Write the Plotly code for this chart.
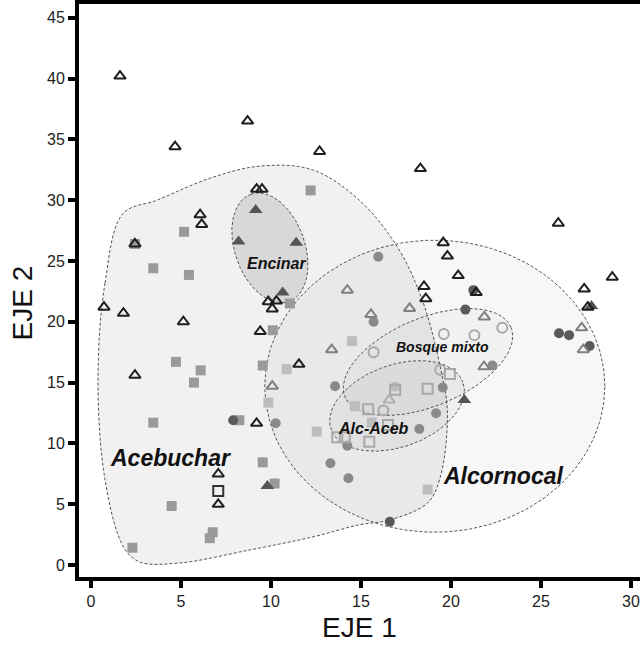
import numpy as np
import plotly.graph_objects as go

# ---------------- data ----------------
tri_open_dark_x = [1.61, 8.7, 4.67, 12.7, 18.3, 9.2, 9.5, 6.06, 6.15, 2.44, 0.72, 1.8, 5.13,
                   9.85, 10.3, 10.07, 9.4, 2.44, 25.96, 19.57, 19.8, 20.4, 21.4, 28.96, 27.4,
                   27.6, 18.5, 18.6, 11.55, 9.2, 7.07, 7.07]
tri_open_dark_y = [40.2, 36.5, 34.4, 34.0, 32.6, 30.9, 30.9, 28.8, 28.0, 26.4, 21.2, 20.7, 20.0,
                   21.65, 21.7, 21.05, 19.2, 15.6, 28.1, 26.5, 25.4, 23.8, 22.4, 23.66, 22.7,
                   21.2, 22.9, 21.9, 16.5, 11.65, 7.48, 4.99]

tri_open_gray_x = [14.24, 13.37, 15.55, 17.7, 21.85, 27.26, 27.35, 21.83, 10.07]
tri_open_gray_y = [22.6, 17.7, 20.6, 21.1, 20.4, 19.5, 17.7, 16.3, 14.7]

tri_open_light_x = [16.57]
tri_open_light_y = [13.57]

tri_filled_x = [9.15, 8.2, 11.4, 10.65, 20.74, 9.8, 27.8]
tri_filled_y = [29.2, 26.6, 26.5, 22.4, 13.57, 6.5, 21.3]

sq_gray_x = [12.2, 5.17, 2.44, 3.46, 5.44, 11.05, 10.1, 4.72, 6.09, 9.54, 5.72,
             3.46, 8.24, 9.54, 10.2, 4.48, 6.76, 6.6, 2.3]
sq_gray_y = [30.8, 27.4, 26.4, 24.4, 23.85, 21.5, 19.3, 16.7, 16.0, 16.4, 15.0,
             11.7, 11.9, 8.44, 6.7, 4.85, 2.69, 2.2, 1.42]

sq_light_x = [14.5, 10.87, 9.85, 12.54, 14.66, 15.6, 18.7]
sq_light_y = [18.4, 16.1, 13.35, 10.96, 13.05, 11.7, 6.2]

sq_open_light_x = [19.94, 16.9, 18.7, 15.4, 16.5, 13.68, 14.1, 15.46]
sq_open_light_y = [15.7, 14.4, 14.5, 12.8, 11.5, 10.5, 10.5, 10.14]

sq_open_dark_x = [7.07]
sq_open_dark_y = [6.08]

circ_dark_x = [21.24, 20.8, 26.0, 26.56, 27.7, 7.9, 16.6]
circ_dark_y = [22.6, 21.0, 19.05, 18.9, 18.0, 11.9, 3.56]

circ_gray_x = [15.96, 15.7, 22.3, 13.56, 19.54, 19.17, 18.24, 14.24, 10.26, 13.3, 14.3]
circ_gray_y = [25.35, 20.0, 16.4, 14.7, 14.6, 12.47, 11.18, 9.8, 11.65, 8.36, 7.13]

circ_light_x = [16.9]
circ_light_y = [14.66]

circ_open_x = [19.6, 21.3, 22.85, 15.7, 19.4, 16.24]
circ_open_y = [19.0, 18.9, 19.5, 17.5, 16.05, 12.7]

# Region outlines
acebuchar_x = [0.39, 0.78, 1.78, 3.67, 6.6, 9.4, 12.3, 14.9, 17.0, 18.4, 19.4, 19.8, 19.4,
               18.7, 16.6, 14.9, 12.3, 8.7, 4.9, 2.7, 1.8, 0.78, 0.39]
acebuchar_y = [15.2, 23.2, 28.9, 30.0, 31.8, 32.8, 32.5, 30.0, 26.2, 21.8, 16.3, 12.5, 7.2,
               5.1, 3.7, 3.3, 2.3, 1.2, 0.16, 0.25, 1.5, 7.0, 15.2]

# ellipse parameters: centre (data), semi-axes (screen px), angle (deg)
ellipses = {
    "Alcornocal": dict(cx=19.1, cy=14.7, a=170, b=146, ang=0, fill="rgba(0,0,0,0.03)"),
    "Encinar": dict(cx=9.94, cy=26.07, a=57, b=35, ang=109.4, fill="rgba(0,0,0,0.10)"),
    "Bosque mixto": dict(cx=18.72, cy=16.69, a=90, b=44, ang=22.7, fill="rgba(0,0,0,0.025)"),
    "Alc-Aceb": dict(cx=17.0, cy=13.08, a=70, b=41, ang=19.7, fill="rgba(0,0,0,0.03)"),
}

labels = ["Acebuchar", "Alcornocal", "Encinar", "Bosque mixto", "Alc-Aceb"]
label_x = [4.4, 22.9, 10.3, 19.55, 15.67]
label_y = [8.8, 7.3, 24.75, 17.95, 11.25]
label_size = [23, 23, 16, 14, 16]

x_ticks = [0, 5, 10, 15, 20, 25, 30]
y_ticks = [0, 5, 10, 15, 20, 25, 30, 35, 40, 45]

# ---------------- figure ----------------
SX, SY = 18.0, 12.16  # px per data unit (for ellipse geometry)

def ellipse(cx, cy, a, b, ang):
    t = np.linspace(0, 2 * np.pi, 200)
    th = np.radians(ang)
    vx = a * np.cos(t) * np.cos(th) - b * np.sin(t) * np.sin(th)
    vy = a * np.cos(t) * np.sin(th) + b * np.sin(t) * np.cos(th)
    return cx + vx / SX, cy + vy / SY

fig = go.Figure()
outline = dict(color="#555555", width=1, dash="3px,2px")

fig.add_trace(go.Scatter(x=acebuchar_x, y=acebuchar_y, mode="lines", fill="toself",
                         fillcolor="rgba(0,0,0,0.055)", line=dict(shape="spline", smoothing=1.0, **outline),
                         hoverinfo="skip", showlegend=False))
for name, e in ellipses.items():
    ex, ey = ellipse(e["cx"], e["cy"], e["a"], e["b"], e["ang"])
    fig.add_trace(go.Scatter(x=ex, y=ey, mode="lines", fill="toself", fillcolor=e["fill"],
                             line=outline, hoverinfo="skip", showlegend=False, name=name))

def pts(x, y, symbol, color, size=10, lw=0, lc=None):
    m = dict(symbol=symbol, size=size, color=color)
    m["line"] = dict(width=lw, color=lc if lc else color)
    fig.add_trace(go.Scatter(x=x, y=y, mode="markers", marker=m, showlegend=False))

pts(sq_gray_x, sq_gray_y, "square", "#9a9a9a", 10)
pts(sq_light_x, sq_light_y, "square", "#bdbdbd", 10)
pts(circ_gray_x, circ_gray_y, "circle", "#8a8a8a", 10)
pts(circ_light_x, circ_light_y, "circle", "#bcbcbc", 10)
pts(circ_dark_x, circ_dark_y, "circle", "#5a5a5a", 10)
pts(sq_open_light_x, sq_open_light_y, "square-open", "#a8a8a8", 10, 2)
pts(sq_open_dark_x, sq_open_dark_y, "square-open", "#333333", 10, 2)
pts(circ_open_x, circ_open_y, "circle-open", "#a8a8a8", 10, 2)
pts(tri_filled_x, tri_filled_y, "triangle-up", "#555555", 12)
pts(tri_open_gray_x, tri_open_gray_y, "triangle-up-open", "#808080", 10, 2)
pts(tri_open_light_x, tri_open_light_y, "triangle-up-open", "#b0b0b0", 10, 2)
pts(tri_open_dark_x, tri_open_dark_y, "triangle-up-open", "#1e1e1e", 10, 2)

for t, x, y, s in zip(labels, label_x, label_y, label_size):
    fig.add_annotation(x=x, y=y, text="<b><i>" + t + "</i></b>", showarrow=False,
                       font=dict(family="Liberation Sans, Arial", size=s, color="#111"))

title_font = dict(family="Liberation Sans, Arial", size=28, color="#111")
fig.add_annotation(xref="paper", yref="paper", x=0.5, y=-0.088, text="EJE 1", showarrow=False,
                   font=title_font, xanchor="center", yanchor="middle")
fig.add_annotation(xref="paper", yref="paper", x=-0.101, y=0.478, text="EJE 2", showarrow=False,
                   font=title_font, textangle=-90, xanchor="center", yanchor="middle")

axis_common = dict(showgrid=False, zeroline=False, showline=True, linewidth=4, linecolor="#000",
                   ticks="outside", ticklen=7, tickwidth=4, tickcolor="#000", automargin=False,
                   tickfont=dict(family="Liberation Sans, Arial", size=16, color="#222"))
fig.update_xaxes(range=[-0.667, 30.5], tickvals=x_ticks, mirror=True, **axis_common)
fig.update_yaxes(range=[-0.99, 46.13], tickvals=y_ticks, **axis_common)
fig.update_layout(width=640, height=646, margin=dict(l=79, r=0, t=4, b=69),
                  plot_bgcolor="white", paper_bgcolor="white")
fig.write_html("out.html", config={"displayModeBar": False},
               post_script="document.body.style.margin='0px';")
